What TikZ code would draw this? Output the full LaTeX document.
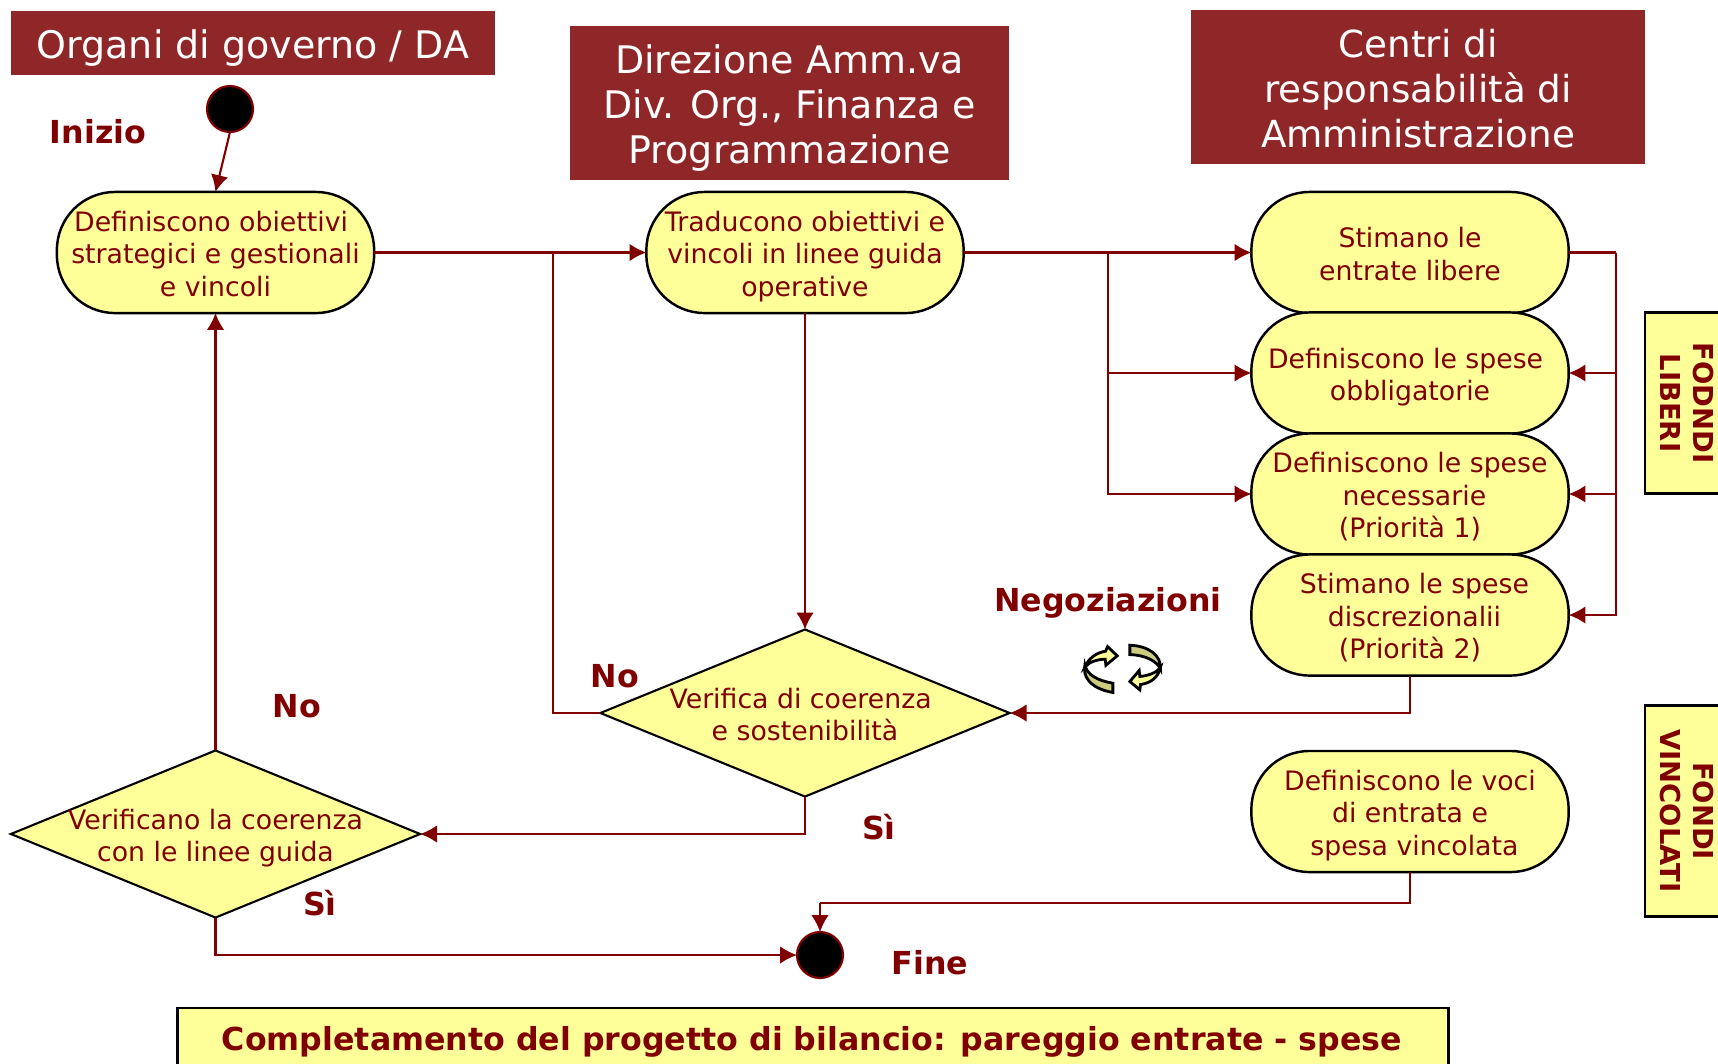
\documentclass[tikz,border=0pt]{standalone}
\usepackage{xcolor}
\usepackage{fontspec}
\setmainfont{DejaVu Sans}
\usepackage{tikz}
\usetikzlibrary{shapes.geometric}
\usetikzlibrary{arrows.meta}
\definecolor{darkred}{HTML}{800000}
\definecolor{headred}{HTML}{8F2628}
\definecolor{paleyellow}{HTML}{FFFF99}
\definecolor{khaki}{HTML}{CCCC80}
\newcommand{\nudge}{\hspace*{2.5pt}}
\newcommand{\st}{\vrule width 0pt height 1.0\baselineskip depth 0pt}
\newcommand{\sd}{\vrule width 0pt height 0pt depth .3\baselineskip}
\tikzset{
	every node/.style={outer sep=0pt},
	head/.style={rectangle, fill=headred, text=white, align=center, inner sep=0pt, font=\fontsize{10.8}{12.7}\selectfont},
	act/.style={rectangle, rounded corners=0.58cm, draw=black, line width=0.7pt, fill=paleyellow, text=darkred, align=center, inner sep=0pt, minimum width=3.17cm, minimum height=1.21cm, font=\fontsize{7.6}{9.2}\selectfont},
	check/.style={diamond, draw=black, line width=0.6pt, fill=paleyellow, text=darkred, align=center, inner sep=-8pt, aspect=2.45, minimum width=4.09cm, minimum height=1.67cm, font=\fontsize{7.6}{9.2}\selectfont},
	dot/.style={circle, draw=darkred, line width=0.6pt, fill=black, inner sep=0pt, minimum size=0.46cm},
	lab/.style={text=darkred, inner sep=0pt, font=\fontsize{9}{11}\selectfont\bfseries},
	fund/.style={rectangle, draw=black, line width=0.7pt, fill=paleyellow, text=darkred, align=center, inner sep=0pt, rotate=-90, font=\fontsize{7.8}{9.3}\selectfont\bfseries},
	link/.style={draw=darkred, line width=0.6pt, >={Latex[length=4.8pt,width=5pt]}},
	twist/.style={draw=black, line width=0.8pt}
}
\begin{document}
\begin{tikzpicture}[x=0.01cm, y=-0.01cm]
	\clip (0,0) rectangle (1718,1063);
	% Headers
	\node[head, minimum width=4.84cm, minimum height=0.64cm] (head1) at (253,43) {\st Organi di governo / DA\sd};
	\node[head, minimum width=4.39cm, minimum height=1.54cm] (head2) at (789.5,103) {\st Direzione Amm.va\\Div. Org., Finanza e\\Programmazione\sd};
	\node[head, minimum width=4.54cm, minimum height=1.54cm, font=\fontsize{10.6}{12.7}\selectfont] (head3) at (1418,87) {\st Centri di\\responsabilità di\\Amministrazione\sd};
	% Nodes
	\node[dot] (start) at (230,109) {};
	\node[act] (obj) at (215.5,252.5) {\st Definiscono obiettivi\nudge\\strategici e gestionali\nudge\\e vincoli\sd};
	\node[act] (guide) at (805,252.5) {\st Traducono obiettivi e\\vincoli in linee guida\nudge\\operative\sd};
	\node[act] (free) at (1410,252.5) {\st Stimano le\\entrate libere\sd};
	\node[act] (must) at (1410,373) {\st Definiscono le spese\nudge\\obbligatorie\sd};
	\node[act] (need) at (1410,494) {\st Definiscono le spese\\\nudge necessarie\\(Priorità 1)\sd};
	\node[act] (disc) at (1410,615) {\st\nudge Stimano le spese\\\nudge discrezionalii\\(Priorità 2)\sd};
	\node[act] (bound) at (1410,811.5) {\st Definiscono le voci\\di entrata e\\\nudge spesa vincolata\sd};
	\node[check] (verify) at (805,713) {\st Verifica di coerenza\nudge\\e sostenibilità\sd};
	\node[check] (coher) at (215.5,834) {\st Verificano la coerenza\\con le linee guida\sd};
	\node[dot] (end) at (820,955) {};
	% Side and bottom boxes
	\node[fund, minimum width=1.81cm, minimum height=0.84cm] (fund1) at (1687,403) {FODNDI\\LIBERI};
	\node[fund, minimum width=2.11cm, minimum height=0.84cm] (fund2) at (1687,811) {FONDI\\VINCOLATI};
	\node[rectangle, draw=black, line width=0.7pt, fill=paleyellow, inner sep=0pt, minimum width=12.70cm, minimum height=0.80cm] (total) at (813,1048) {};
	\node[lab] (totaltext) at (812,1042) {Completamento del progetto di bilancio: pareggio entrate - spese};
	% Labels
	\node[lab] (inizio) at (98,132) {Inizio};
	\node[lab] (no1) at (297,706) {No};
	\node[lab] (no2) at (615,676) {No};
	\node[lab] (si1) at (879,827) {Sì};
	\node[lab] (si2) at (320,903) {Sì};
	\node[lab] (nego) at (1108,603) {Negoziazioni};
	\node[lab] (fine) at (930,963) {Fine};
	% Bend points
	\coordinate (back) at (553,252.5);
	\coordinate (branch) at (1108,252.5);
	\coordinate (bus) at (1616,252.5);
	\coordinate (merge) at (820,903);
	% Edges
	\draw[link, ->] (start.south) -- (obj.north);
	\draw[link] (obj.east) -- (back);
	\draw[link, ->] (back) -- (guide.west);
	\draw[link] (verify.west) -| (back);
	\draw[link, ->] (guide.south) -- (verify.north);
	\draw[link, ->] (guide.east) -- (free.west);
	\draw[link, ->] (branch) |- (must.west);
	\draw[link, ->] (branch) |- (need.west);
	\draw[link] (free.east) -- (bus);
	\draw[link, ->] (bus) |- (must.east);
	\draw[link, ->] (bus) |- (need.east);
	\draw[link, ->] (bus) |- (disc.east);
	\draw[link, ->] (disc.south) |- (verify.east);
	\draw[link, ->] (verify.south) |- (coher.east);
	\draw[link, ->] (coher.north) -- (obj.south);
	\draw[link, ->] (coher.south) |- (end.west);
	\draw[link] (bound.south) |- (merge);
	\draw[link, ->] (merge) -- (end.north);
	% Turning arrows
	\begin{scope}[shift={(1040,580)}, x=0.00333cm, y=-0.00333cm]
		\draw[twist, fill=khaki] (219,310) .. controls (175,303) and (140,285) .. (135,255) .. controls (128,285) and (145,325) .. (219,338) -- cycle;
		\draw[twist, fill=paleyellow] (135,262) .. controls (145,235) and (170,218) .. (197,214) -- (203,200) -- (232,228) -- (198,256) -- (196,238) .. controls (170,238) and (145,248) .. (135,262) -- cycle;
		\draw[twist, fill=khaki] (270,196) .. controls (325,198) and (365,225) .. (362,268) .. controls (352,245) and (320,226) .. (270,224) -- cycle;
		\draw[twist, fill=paleyellow] (362,262) .. controls (350,280) and (325,287) .. (300,290) -- (298,272) -- (270,305) -- (300,330) -- (302,314) .. controls (330,310) and (355,295) .. (362,262) -- cycle;
	\end{scope}
\end{tikzpicture}
\end{document}
